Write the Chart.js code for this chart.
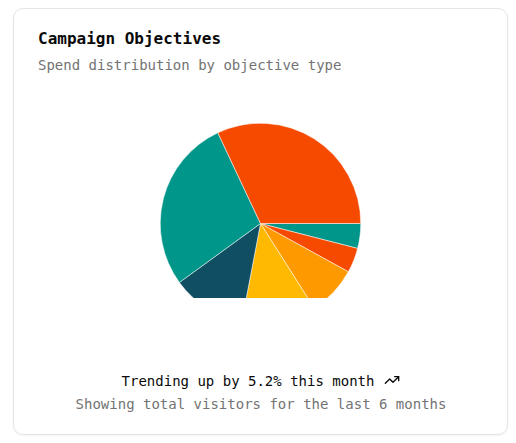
<!DOCTYPE html>
<html>
<head>
<meta charset="utf-8">
<script src="https://cdn.jsdelivr.net/npm/chart.js@4.4.1/dist/chart.umd.min.js"></script>
<style>
  html, body { margin: 0; padding: 0; background: #ffffff; width: 516px; height: 443px; overflow: hidden; }
  body { position: relative; font-family: "DejaVu Sans Mono", "Liberation Mono", monospace; }
  .card {
    position: absolute; left: 13px; top: 8px; width: 493px; height: 425px;
    border: 1px solid #e5e5e5; border-radius: 10px; background: #fff;
    box-shadow: 0 1px 2px rgba(0,0,0,0.05);
  }
  .title { position: absolute; left: 38px; top: 29px; font-size: 16px; line-height: 20px; font-weight: bold; color: #0a0a0a; white-space: nowrap; }
  .subtitle { position: absolute; left: 38px; top: 55px; font-size: 14px; line-height: 20px; color: #737373; white-space: nowrap; }
  .chartwrap { position: absolute; left: 160px; top: 123px; width: 201px; height: 175px; overflow: hidden; }
  .foot1 { position: absolute; left: 3px; width: 516px; top: 371px; text-align: center; font-size: 14px; line-height: 20px; color: #0a0a0a; white-space: nowrap; }
  .foot1 svg { vertical-align: -2px; margin-left: 10px; }
  .foot2 { position: absolute; left: 1px; width: 520px; top: 394px; text-align: center; font-size: 14px; line-height: 20px; color: #737373; white-space: nowrap; }
</style>
</head>
<body>
<div class="card"></div>
<div class="title">Campaign Objectives</div>
<div class="subtitle">Spend distribution by objective type</div>
<div class="chartwrap"><canvas id="c" width="201" height="201"></canvas></div>
<div class="foot1">Trending up by 5.2% this month<svg width="16" height="16" viewBox="0 0 24 24" fill="none" stroke="#0a0a0a" stroke-width="2" stroke-linecap="round" stroke-linejoin="round"><polyline points="22 7 13.5 15.5 8.5 10.5 2 17"/><polyline points="16 7 22 7 22 13"/></svg></div>
<div class="foot2">Showing total visitors for the last 6 months</div>
<script>
// Data in original (counter-clockwise from 3 o'clock) order
const categories = ["Conversions", "Traffic", "Awareness", "Engagement", "Leads", "App Installs", "Video Views"];
const spendShare = [32, 28, 12, 12, 8, 4, 4];
const palette = ["#f54a00", "#009689", "#104e64", "#ffb900", "#fe9a00"];

const sliceColors = categories.map((_, i) => palette[i % palette.length]);
// Chart.js draws clockwise, so reverse to reproduce the counter-clockwise layout
const labelsCW = categories.slice().reverse();
const dataCW = spendShare.slice().reverse();
const colorsCW = sliceColors.slice().reverse();

new Chart(document.getElementById("c"), {
  type: "pie",
  data: {
    labels: labelsCW,
    datasets: [{
      data: dataCW,
      backgroundColor: colorsCW,
      borderColor: "#ffffff",
      borderWidth: 0.5
    }]
  },
  options: {
    responsive: false,
    animation: false,
    rotation: 90,
    layout: { padding: 0 },
    plugins: { legend: { display: false }, tooltip: { enabled: false } }
  }
});
</script>
</body>
</html>
